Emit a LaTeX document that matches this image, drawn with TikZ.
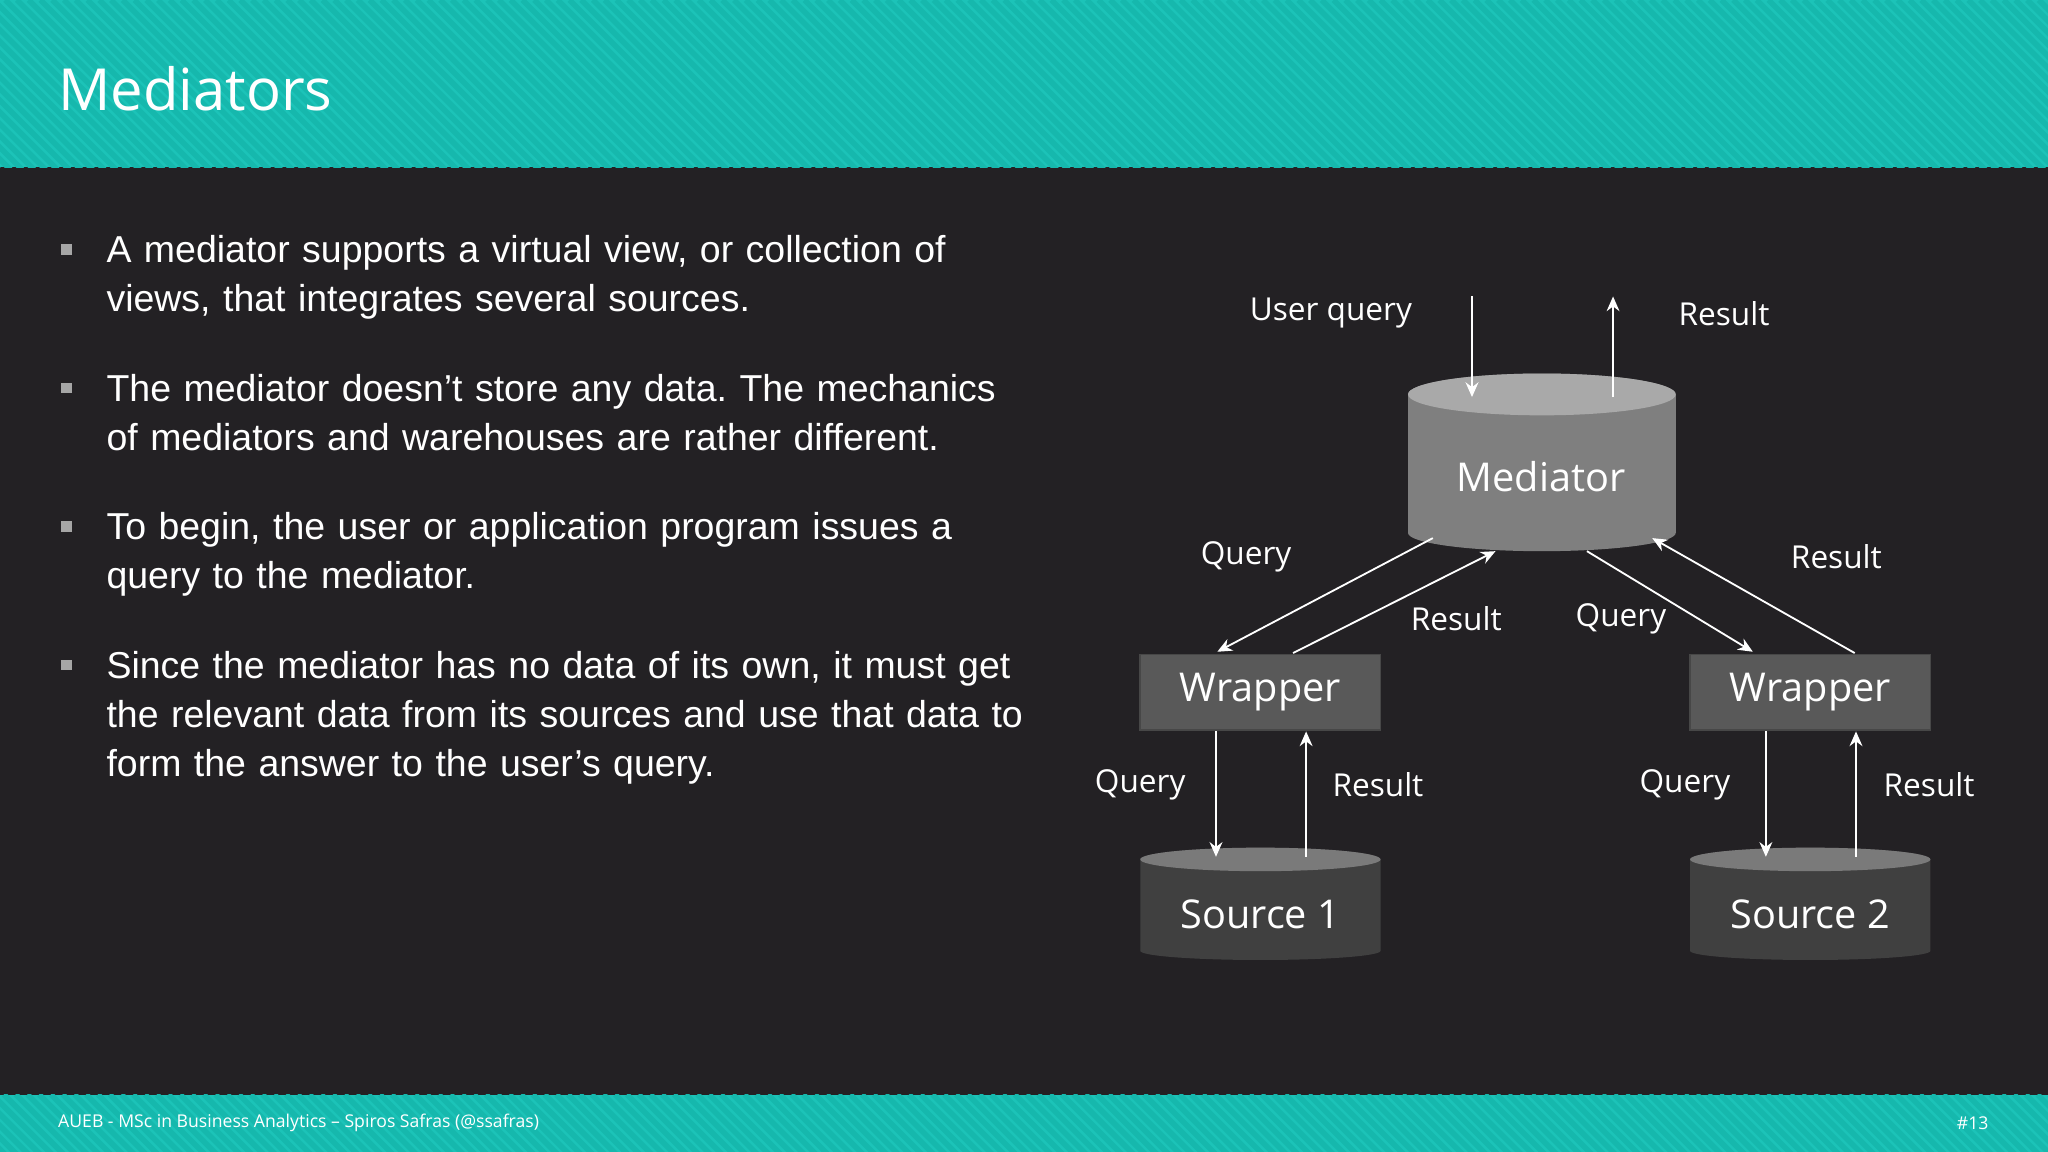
\documentclass[tikz,border=0pt]{standalone}
\usepackage{fontspec}
\setmainfont{Liberation Sans}
\newfontfamily\seg{Open Sans}
\usetikzlibrary{arrows.meta}
\frenchspacing
\definecolor{teal1}{HTML}{1CC3B8}
\definecolor{teal2}{HTML}{16B8AD}
\definecolor{bg}{HTML}{232124}
\definecolor{medbody}{HTML}{7F7F7F}
\definecolor{medtop}{HTML}{A9A9A9}
\definecolor{srcbody}{HTML}{404040}
\definecolor{srctop}{HTML}{7A7A7A}
\definecolor{wrapfill}{HTML}{595959}
\tikzset{
 lbl/.style={text=white,font=\seg\fontsize{8.6}{11}\selectfont,inner sep=0},
 arr/.style={white,line width=0.5pt,-{Stealth[length=4pt,width=3.5pt]}},
 wrap/.style={fill=wrapfill,draw=wrapfill!80!black,line width=0.4pt,minimum width=2.3cm,minimum height=0.725cm,text=white,font=\seg\fontsize{10.8}{13}\selectfont},
 big/.style={text=white,font=\seg\fontsize{10.8}{13}\selectfont},
 bul/.style={text=white,font=\fontsize{10.2}{13.3}\selectfont,anchor=north west,inner sep=0,align=left,text width=8.9cm}
}
\begin{document}
\begin{tikzpicture}[x=0.0125cm,y=-0.0125cm]
\useasboundingbox (0,0) rectangle (1568,882);
\fill[bg] (0,0) rectangle (1568,882);
% header
\fill[teal1] (0,0) rectangle (1568,128);
\begin{scope}
\clip (0,0) rectangle (1568,128);
\foreach \i in {-140,-131,...,1580}{\draw[teal2,line width=1.5pt] (\i,0) -- (\i+130,130);}
\end{scope}
\fill[teal1] (0,838) rectangle (1568,882);
\begin{scope}
\clip (0,838) rectangle (1568,882);
\foreach \i in {-60,-51,...,1580}{\draw[teal2,line width=1.5pt] (\i,838) -- (\i+46,884);}
\end{scope}
\node[anchor=west,text=white,font=\seg\fontsize{15.8}{19}\selectfont,inner sep=0] (title) at (44,68) {Mediators};
\node[anchor=west,text=white,font=\seg\fontsize{4.8}{6}\selectfont,inner sep=0] (foot) at (44,860) {AUEB - MSc in Business Analytics – Spiros Safras (@ssafras)};
\node[anchor=east,text=white,font=\seg\fontsize{4.8}{6}\selectfont,inner sep=0] (num) at (1523,860) {\#13};
% bullets
\foreach \y/\t [count=\k] in {180/{A mediator supports a virtual view, or collection of views, that integrates several sources.},
 286/{The mediator doesn’t store any data. The mechanics of mediators and warehouses are rather different.},
 392/{To begin, the user or application program issues a query to the mediator.},
 498/{Since the mediator has no data of its own, it must get the relevant data from its sources and use that data to form the answer to the user’s query.}}{
 \fill[gray!70] (47,\y+7) rectangle (55,\y+15);
 \node[bul] (b\k) at (81,\y) {\t};
}
% mediator cylinder
\fill[medbody] (1078,302) -- (1078,408) arc[start angle=180,end angle=360,x radius=102.5,y radius=-14] -- (1283,302) arc[start angle=0,end angle=180,x radius=102.5,y radius=-16] -- cycle;
\fill[medtop] (1180.5,302) ellipse[x radius=102.5,y radius=16];
\node[big] (med) at (1180,365) {Mediator};
% sources
\foreach \cx/\n in {965/1,1386/2}{
 \fill[srcbody] (\cx-92,658) -- (\cx-92,728) arc[start angle=180,end angle=360,x radius=92,y radius=-7] -- (\cx+92,658) arc[start angle=0,end angle=180,x radius=92,y radius=-9] -- cycle;
 \fill[srctop] (\cx,658) ellipse[x radius=92,y radius=9];
 \node[big] (s\n) at (\cx,700) {Source \n};
}
\node[wrap] (w1) at (965,530) {Wrapper};
\node[wrap] (w2) at (1386,530) {Wrapper};
% coordinates
\coordinate (uq1) at (1127,227); \coordinate (uq2) at (1127,304);
\coordinate (ur1) at (1235,304); \coordinate (ur2) at (1235,227);
\coordinate (lq1) at (1097,412); \coordinate (lq2) at (932,499);
\coordinate (lr1) at (990,500); \coordinate (lr2) at (1145,422);
\coordinate (rq1) at (1215,422); \coordinate (rq2) at (1342,499);
\coordinate (rr1) at (1420,500); \coordinate (rr2) at (1265,412);
\coordinate (a1) at (931,560); \coordinate (a2) at (931,656);
\coordinate (b1) at (1000,656); \coordinate (b2) at (1000,560);
\coordinate (c1) at (1352,560); \coordinate (c2) at (1352,656);
\coordinate (d1) at (1421,656); \coordinate (d2) at (1421,560);
\foreach \p/\q in {uq1/uq2,ur1/ur2,lq1/lq2,lr1/lr2,rq1/rq2,rr1/rr2,a1/a2,b1/b2,c1/c2,d1/d2}{\draw[arr] (\p) -- (\q);}
% labels
\node[lbl] (l1) at (1019,240) {User query};
\node[lbl] (l2) at (1320,240) {Result};
\node[lbl] (l3) at (954,426) {Query};
\node[lbl] (l4) at (1115,474) {Result};
\node[lbl] (l5) at (1241,474) {Query};
\node[lbl] (l6) at (1406,426) {Result};
\node[lbl] (l7) at (873,601) {Query};
\node[lbl] (l8) at (1055,601) {Result};
\node[lbl] (l9) at (1290,601) {Query};
\node[lbl] (l10) at (1477,601) {Result};
\end{tikzpicture}
\end{document}
